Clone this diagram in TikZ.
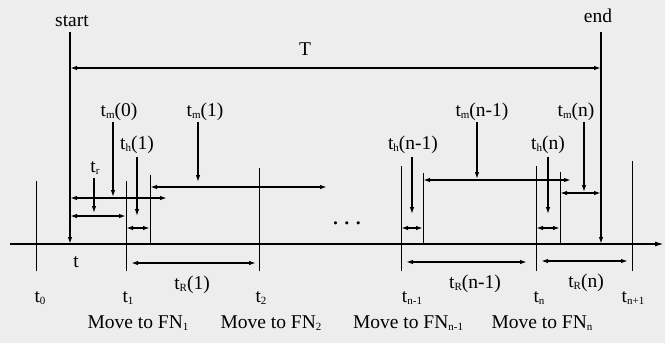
\documentclass[tikz,border=0pt]{standalone}
\usepackage{fontspec}
\setmainfont{Liberation Serif}
\usetikzlibrary{arrows.meta}
\newcommand{\sbx}[1]{\raisebox{-0.12em}{\fontsize{11}{11}\selectfont #1}}
\begin{document}
\begin{tikzpicture}[x=1pt,y=-1pt,
  lbl/.style={anchor=base,inner sep=0pt,font=\fontsize{19.5}{21}\selectfont},
  thinln/.style={line width=0.8pt},
  darr/.style={line width=1.4pt,{Latex[length=7pt,width=4.5pt]}-{Latex[length=7pt,width=4.5pt]}},
  varr/.style={line width=1.2pt,-{Latex[length=7pt,width=4.5pt]}},
  mainln/.style={line width=1.5pt}]
\useasboundingbox[fill=black!7] (0,0) rectangle (665,343);

% main axis
\coordinate (ax0) at (10,244); \coordinate (ax1) at (664,244);
\draw[mainln,-{Latex[length=9pt,width=5pt]}] (ax0) -- (ax1);

% start / end
\coordinate (s0) at (70,32); \coordinate (s1) at (70,244);
\coordinate (e0) at (601,32); \coordinate (e1) at (601,244);
\draw[varr,line width=1.5pt] (s0) -- (s1);
\draw[varr,line width=1.5pt] (e0) -- (e1);
\node[lbl] (lstart) at (72,26.5) {start};
\node[lbl] (lend) at (598,22.5) {end};

% T
\coordinate (T0) at (70,68); \coordinate (T1) at (601,68);
\draw[darr] (T0) -- (T1);
\node[lbl] (lT) at (305,55) {T};

% ticks
\coordinate (k0a) at (36,181);  \coordinate (k0b) at (36,271);
\coordinate (k1a) at (126,181); \coordinate (k1b) at (126,271);
\coordinate (k15a) at (150,175); \coordinate (k15b) at (150,244);
\coordinate (k2a) at (259,168); \coordinate (k2b) at (259,271);
\coordinate (kn1a) at (401,166); \coordinate (kn1b) at (401,271);
\coordinate (kn15a) at (423,173); \coordinate (kn15b) at (423,244);
\coordinate (kna) at (536,166); \coordinate (knb) at (536,271);
\coordinate (kn5a) at (560,172); \coordinate (kn5b) at (560,244);
\coordinate (knpa) at (632,161); \coordinate (knpb) at (632,271);
\foreach \a/\b in {k0a/k0b,k1a/k1b,k15a/k15b,k2a/k2b,kn1a/kn1b,kn15a/kn15b,kna/knb,kn5a/kn5b,knpa/knpb}
  \draw[thinln] (\a) -- (\b);

% horizontal double arrows
\coordinate (h1a) at (70,198);  \coordinate (h1b) at (167,198);
\coordinate (h2a) at (70,216);  \coordinate (h2b) at (126,216);
\coordinate (h3a) at (126,228); \coordinate (h3b) at (150,228);
\coordinate (h4a) at (150,187); \coordinate (h4b) at (327,187);
\coordinate (h5a) at (401,228); \coordinate (h5b) at (423,228);
\coordinate (h6a) at (423,180); \coordinate (h6b) at (571,180);
\coordinate (h7a) at (536,228); \coordinate (h7b) at (560,228);
\coordinate (h8a) at (560,193); \coordinate (h8b) at (601,193);
\coordinate (r1a) at (131,263); \coordinate (r1b) at (256,263);
\coordinate (r2a) at (406,262); \coordinate (r2b) at (527,262);
\coordinate (r3a) at (541,261); \coordinate (r3b) at (628,261);
\foreach \a/\b in {h1a/h1b,h2a/h2b,h3a/h3b,h4a/h4b,h5a/h5b,h6a/h6b,h7a/h7b,h8a/h8b,r1a/r1b,r2a/r2b,r3a/r3b}
  \draw[darr] (\a) -- (\b);

% vertical pointer arrows
\coordinate (v1a) at (113,122); \coordinate (v1b) at (113,197);
\coordinate (v2a) at (94,178);  \coordinate (v2b) at (94,213);
\coordinate (v3a) at (137,157); \coordinate (v3b) at (137,216);
\coordinate (v4a) at (198,122); \coordinate (v4b) at (198,182);
\coordinate (v5a) at (412,157); \coordinate (v5b) at (412,214);
\coordinate (v6a) at (477,122); \coordinate (v6b) at (477,179);
\coordinate (v7a) at (548,157); \coordinate (v7b) at (548,214);
\coordinate (v8a) at (584,122); \coordinate (v8b) at (584,192);
\foreach \a/\b in {v1a/v1b,v2a/v2b,v3a/v3b,v4a/v4b,v5a/v5b,v6a/v6b,v7a/v7b,v8a/v8b}
  \draw[varr] (\a) -- (\b);

% upper labels
\node[lbl] (ltm0) at (119,116.5) {t\sbx{m}(0)};
\node[lbl] (ltm1) at (205,116.5) {t\sbx{m}(1)};
\node[lbl] (lth1) at (137,149.5) {t\sbx{h}(1)};
\node[lbl] (ltr) at (95,172) {t\sbx{r}};
\node[lbl] (ltmn1) at (482,116.5) {t\sbx{m}(n-1)};
\node[lbl] (ltmn) at (576,116.5) {t\sbx{m}(n)};
\node[lbl] (lthn1) at (413,149) {t\sbx{h}(n-1)};
\node[lbl] (lthn) at (548,149) {t\sbx{h}(n)};

% lower labels
\node[lbl] (lt) at (76,267.5) {t};
\node[lbl] (lt0) at (40,302.5) {t\sbx{0}};
\node[lbl] (lt1) at (128,302.5) {t\sbx{1}};
\node[lbl] (lt2) at (261,302.5) {t\sbx{2}};
\node[lbl] (ltn1) at (412,302.5) {t\sbx{n-1}};
\node[lbl] (ltn) at (539,302.5) {t\sbx{n}};
\node[lbl] (ltnp) at (633,302.5) {t\sbx{n+1}};
\node[lbl] (ltR1) at (192,289) {t\sbx{R}(1)};
\node[lbl] (ltRn1) at (475,288) {t\sbx{R}(n-1)};
\node[lbl] (ltRn) at (586,287) {t\sbx{R}(n)};

\node[lbl] (m1) at (138,328) {Move to FN\sbx{1}};
\node[lbl] (m2) at (271,328) {Move to FN\sbx{2}};
\node[lbl] (m3) at (408,328) {Move to FN\sbx{n-1}};
\node[lbl] (m4) at (542,328) {Move to FN\sbx{n}};

\node[lbl,font=\fontsize{26}{26}\selectfont] (dots) at (347,224) {.\hspace{5pt}.\hspace{5pt}.};
\end{tikzpicture}
\end{document}
